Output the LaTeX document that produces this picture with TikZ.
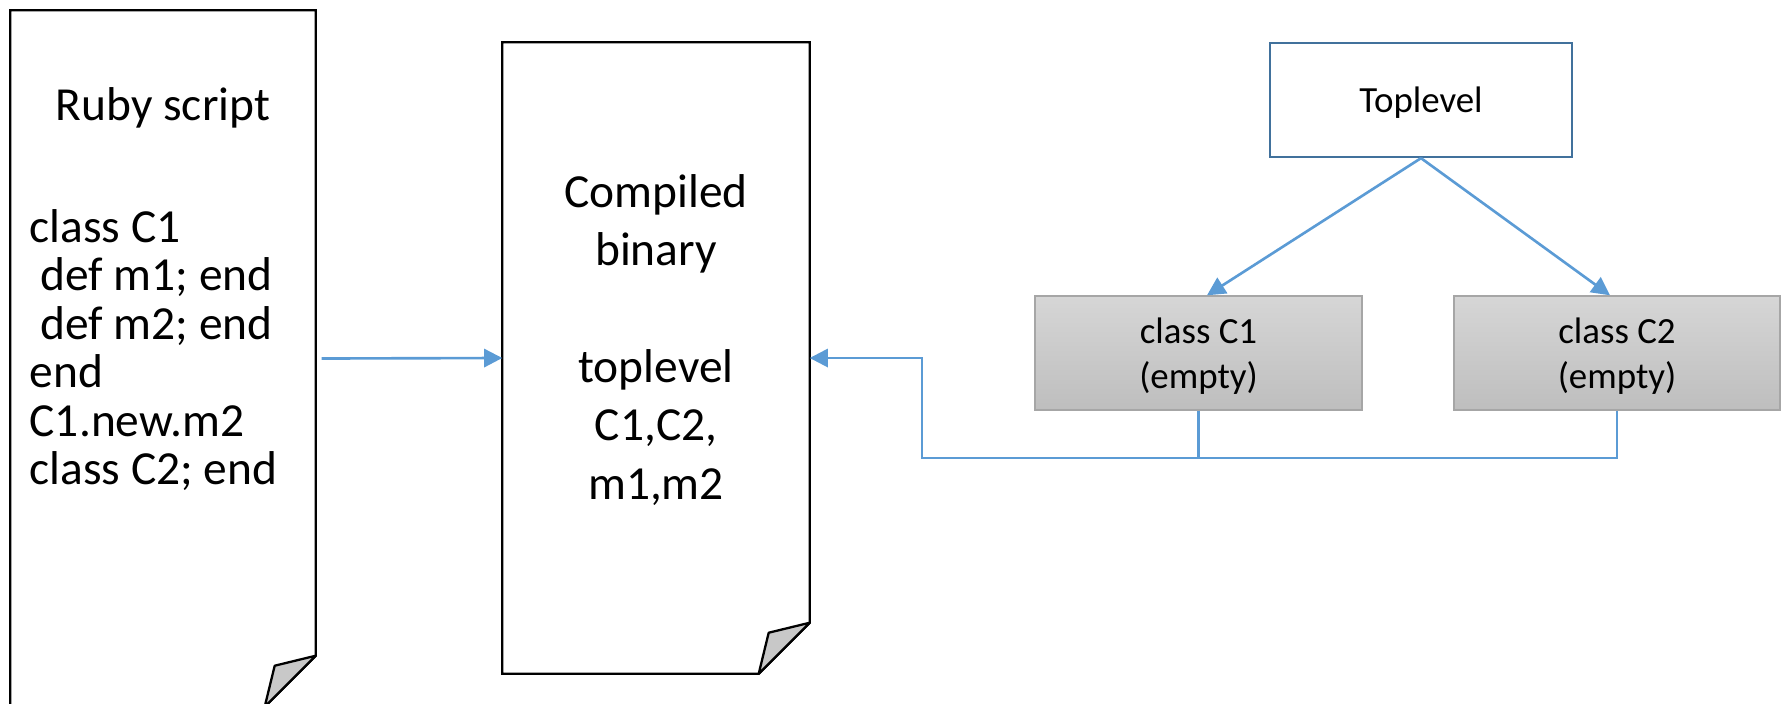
\documentclass[tikz,border=0pt]{standalone}
\usepackage{fontspec}
\setmainfont{Carlito}
\usetikzlibrary{arrows.meta}
\definecolor{linkblue}{HTML}{5B9BD5}
\definecolor{topblue}{HTML}{41719C}
\definecolor{flapgray}{HTML}{C8C8C8}
\definecolor{boxtop}{HTML}{D6D6D6}
\definecolor{boxbot}{HTML}{BEBEBE}
\definecolor{boxline}{HTML}{A6A6A6}
\tikzset{
  docpage/.style={draw=none, inner sep=0pt},
  doctext/.style={font=\fontsize{13.5}{13.8}\selectfont},
  link/.style={draw=linkblue, line width=0.75pt, -{Triangle[length=5.2pt,width=5.2pt]}},
  wire/.style={draw=linkblue, line width=0.75pt},
  topbox/.style={draw=topblue, fill=white, line width=0.65pt, minimum width=3.02cm,
    minimum height=1.14cm, text depth=0pt, font=\fontsize{10.5}{12.8}\selectfont},
  classbox/.style={draw=boxline, line width=0.4pt, top color=boxtop, bottom color=boxbot,
    minimum height=1.14cm, text depth=0pt, align=center, font=\fontsize{10.5}{12.8}\selectfont}
}
% sheet of paper with a dog-ear at the lower right
\newcommand{\drawdoc}[1]{%
  \draw[line width=0.65pt] (#1.north west) -- (#1.north east) -- ([yshift=0.51cm]#1.south east)
    -- ([xshift=-0.51cm]#1.south east) -- (#1.south west) -- cycle;
  \draw[line width=0.65pt, fill=flapgray, line join=round] ([yshift=0.51cm]#1.south east)
    -- ([shift={(-0.41,0.41)}]#1.south east) -- ([xshift=-0.51cm]#1.south east) -- cycle;}
\begin{document}
\begin{tikzpicture}
  \useasboundingbox (0,0) rectangle (17.81,7.03);
  % documents
  \node[docpage, minimum width=3.04cm, minimum height=6.95cm] (ruby) at (1.63,3.445) {};
  \node[docpage, minimum width=3.06cm, minimum height=6.30cm] (binary) at (6.56,3.45) {};
  \drawdoc{ruby}
  \drawdoc{binary}
  \node[doctext, anchor=base] (rubytitle) at (1.63,5.83) {Ruby script};
  \node[doctext, anchor=west, align=left, inner sep=0pt] (rubycode) at (0.29,3.53)
    {class C1\\\hspace*{3.1pt}def m1; end\\\hspace*{3.1pt}def m2; end\\end\\C1.new.m2\\class C2; end};
  \node[doctext, align=center, inner sep=0pt, font=\fontsize{13.5}{16.6}\selectfont] (binarytext)
    at (6.56,3.63) {Compiled\\binary\\[16.6pt]toplevel\\C1,C2,\\m1,m2};
  % class tree
  \node[topbox] (top) at (14.21,6.03) {Toplevel};
  \node[classbox, minimum width=3.27cm] (c1) at (11.985,3.50) {class C1\\(empty)};
  \node[classbox, minimum width=3.26cm] (c2) at (16.17,3.50) {class C2\\(empty)};
  \coordinate (bus) at (9.22,2.45);
  \draw[link] (top.south) -- ([xshift=0.085cm]c1.north);
  \draw[link] (top.south) -- ([xshift=-0.07cm]c2.north);
  \draw[link] ([xshift=0.06cm]ruby.east) -- (binary.west);
  \draw[wire] (c1.south) -- (c1.south |- bus);
  \draw[link] (c2.south) |- (bus) |- (binary.east);
\end{tikzpicture}
\end{document}
